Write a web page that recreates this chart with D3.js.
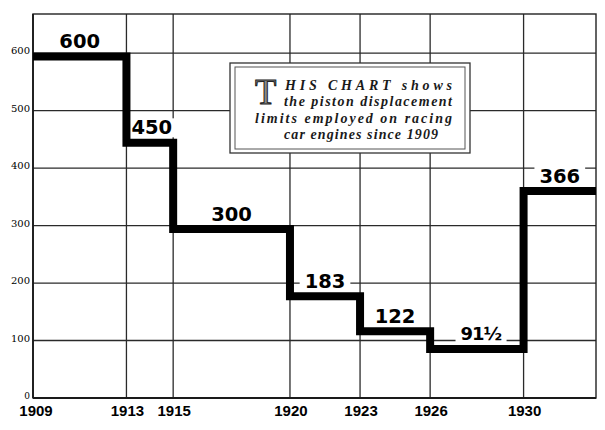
<!DOCTYPE html>
<html>
<head>
<meta charset="utf-8">
<script src="https://cdn.jsdelivr.net/npm/d3@7"></script>
<style>
  html, body { margin: 0; padding: 0; background: #fff; }
  svg { display: block; }
</style>
</head>
<body>
<svg id="chart" width="605" height="430"></svg>
<script>
// ---- data ----
const years = [1909, 1913, 1915, 1920, 1923, 1926, 1930];
const limits = [600, 450, 300, 183, 122, 91.5, 366];
const valueLabels = ["600", "450", "300", "183", "122", "91½", "366"];
const endYear = 1933.1;
const yTicks = [0, 100, 200, 300, 400, 500, 600];
const yTickLabels = ["0", "100", "200", "300", "400", "500", "600"];
const xTickLabels = ["1909", "1913", "1915", "1920", "1923", "1926", "1930"];
const noteCap = "T";
const noteLines = ["HIS CHART shows", "the piston displacement", "limits employed on racing", "car engines since 1909"];

// ---- layout ----
const svg = d3.select("#chart");
const pLeft = 33, pRight = 596, pTop = 14, pBottom = 398;
const x = d3.scaleLinear().domain([years[0], endYear]).range([pLeft, pRight]);
const y = d3.scaleLinear().domain([0, 668]).range([pBottom, pTop]);

const ink = "#1a1a1a";

// grid
const grid = svg.append("g");
grid.selectAll("line.h").data(yTicks.slice(1)).join("line")
  .attr("x1", pLeft).attr("x2", pRight)
  .attr("y1", d => y(d)).attr("y2", d => y(d))
  .attr("stroke", "#2a2a2a").attr("stroke-width", 1.3);
grid.selectAll("line.v").data(years.slice(1)).join("line")
  .attr("x1", d => x(d)).attr("x2", d => x(d))
  .attr("y1", pTop).attr("y2", pBottom)
  .attr("stroke", "#2a2a2a").attr("stroke-width", 1.3);
// frame
svg.append("rect").attr("x", pLeft).attr("y", pTop)
  .attr("width", pRight - pLeft).attr("height", pBottom - pTop)
  .attr("fill", "none").attr("stroke", "#222").attr("stroke-width", 1.4);
svg.append("line").attr("x1", pLeft).attr("x2", pRight).attr("y1", pBottom).attr("y2", pBottom)
  .attr("stroke", ink).attr("stroke-width", 2);
svg.append("line").attr("x1", pLeft).attr("x2", pLeft).attr("y1", pTop).attr("y2", pBottom)
  .attr("stroke", ink).attr("stroke-width", 1.8);

// note box
const box = svg.append("g");
box.append("rect").attr("x", 230).attr("y", 63).attr("width", 240).attr("height", 90)
  .attr("fill", "#fff").attr("stroke", "#333").attr("stroke-width", 1.3);
box.append("rect").attr("x", 235).attr("y", 67).attr("width", 230).attr("height", 82)
  .attr("fill", "none").attr("stroke", "#555").attr("stroke-width", 1);
box.append("text").text(noteCap)
  .attr("x", 255).attr("y", 103.5)
  .attr("font-family", "Liberation Serif, serif")
  .attr("font-size", 35)
  .attr("fill", "#8a8a8a").attr("stroke", "#222").attr("stroke-width", 1);
const lineSpecs = [
  {x: 285, y: 90, w: 167},
  {x: 284, y: 106, w: 168},
  {x: 255, y: 123, w: 197},
  {x: 284, y: 139, w: 154}
];
box.selectAll("text.note").data(noteLines).join("text")
  .attr("class", "note")
  .text(d => d)
  .attr("x", (d, i) => lineSpecs[i].x)
  .attr("y", (d, i) => lineSpecs[i].y)
  .attr("textLength", (d, i) => lineSpecs[i].w)
  .attr("lengthAdjust", "spacing")
  .attr("font-family", "Liberation Serif, serif")
  .attr("font-style", "italic")
  .attr("font-weight", "bold")
  .attr("font-size", 14)
  .attr("fill", ink);

// label backgrounds (behind the step line, over the grid)
const labBg = svg.append("g");

// step line
const pts = years.map((yr, i) => [yr, limits[i]]).concat([[endYear, limits[limits.length - 1]]]);
const stepLine = d3.line().x(d => x(d[0])).y(d => y(d[1])).curve(d3.curveStepAfter);
svg.append("path").datum(pts)
  .attr("d", stepLine)
  .attr("transform", "translate(0,3.5)")
  .attr("fill", "none").attr("stroke", "#000").attr("stroke-width", 8)
  .attr("stroke-linejoin", "miter").attr("stroke-linecap", "butt");

// value labels
const labelNudge = {"450": 2, "91½": 4};
const lab = svg.append("g");
valueLabels.forEach((t, i) => {
  const x0 = years[i], x1 = i + 1 < years.length ? years[i + 1] : endYear;
  const cx = x((x0 + x1) / 2) + (labelNudge[t] || 0);
  const txt = lab.append("text").text(t)
    .attr("x", cx).attr("y", y(limits[i]) - 5)
    .attr("text-anchor", "middle")
    .attr("font-family", "DejaVu Sans, sans-serif")
    .attr("font-weight", "bold")
    .attr("font-size", t === "91½" ? 18 : 19.5)
    .attr("letter-spacing", t === "91½" ? -1 : 0)
    .attr("fill", "#000");
  const bb = txt.node().getBBox();
  labBg.append("rect")
    .attr("x", bb.x - 5).attr("y", bb.y + 2)
    .attr("width", bb.width + 10).attr("height", bb.height - 4)
    .attr("fill", "#fff");
});

// y tick labels
svg.selectAll("text.ytick").data(yTicks).join("text")
  .attr("class", "ytick")
  .text((d, i) => yTickLabels[i])
  .attr("x", 30).attr("y", d => y(d) + 1)
  .attr("text-anchor", "end")
  .attr("font-family", "DejaVu Serif, serif")
  .attr("font-size", d => d === 0 ? 9 : 10)
  .attr("fill", "#000");

// x tick labels
svg.selectAll("text.xtick").data(years).join("text")
  .attr("class", "xtick")
  .text((d, i) => xTickLabels[i])
  .attr("x", (d, i) => x(d) + (i === 0 ? 3 : 1))
  .attr("y", 416)
  .attr("text-anchor", "middle")
  .attr("font-family", "Liberation Sans, sans-serif")
  .attr("font-weight", "bold")
  .attr("font-size", 15)
  .attr("fill", "#000");
</script>
</body>
</html>
